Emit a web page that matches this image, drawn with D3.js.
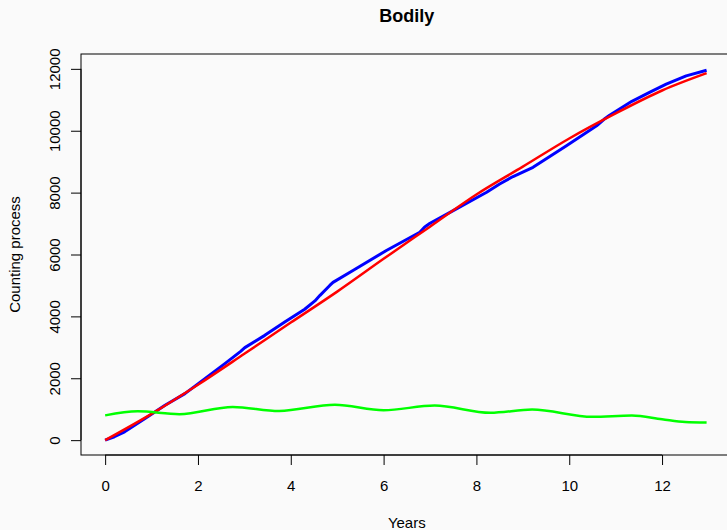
<!DOCTYPE html>
<html>
<head>
<meta charset="utf-8">
<script src="https://cdn.jsdelivr.net/npm/d3@7"></script>
<style>
  html, body { margin: 0; padding: 0; background: #fafafa; }
  svg { display: block; font-family: "Liberation Sans", Arial, Helvetica, sans-serif; }
</style>
</head>
<body>
<div class="chart"></div>
<script>
// values
var blueYears = [0, 0.2, 0.42, 0.86, 1.29, 1.72, 2.15, 2.58, 2.92, 3.01, 3.44, 3.87, 4.3, 4.52, 4.63, 4.84, 4.91, 5.34, 6.06, 6.78, 6.88, 7.0, 7.5, 8.22, 8.5, 8.79, 9.22, 9.94, 10.59, 10.75, 10.87, 11.35, 11.73, 12.09, 12.52, 12.96];
var blueCounts = [0, 110, 268, 699, 1129, 1505, 1989, 2473, 2870, 2990, 3387, 3817, 4230, 4500, 4680, 5000, 5100, 5484, 6129, 6720, 6880, 7010, 7419, 8010, 8280, 8520, 8817, 9516, 10161, 10370, 10500, 10950, 11237, 11505, 11774, 11957];

var redYears = [0, 1, 2, 3, 4, 5, 6, 7, 8, 9, 10, 11, 12, 12.96];
var redCounts = [0, 850, 1790, 2790, 3800, 4800, 5860, 6900, 7940, 8840, 9750, 10560, 11300, 11860];

var greenYears = [0, 0.7, 1.6, 2.75, 3.75, 4.95, 6.0, 7.1, 8.3, 9.2, 10.5, 11.35, 12.0, 12.5, 12.96];
var greenCounts = [800, 930, 840, 1075, 945, 1145, 968, 1118, 885, 990, 755, 795, 677, 590, 570];

var xTicks = [0, 2, 4, 6, 8, 10, 12];
var yTicks = [0, 2000, 4000, 6000, 8000, 10000, 12000];

var width = 727, height = 530;
var plotLeft = 81, plotRight = 732.6, plotTop = 54, plotBottom = 455;

var svg = d3.select(".chart")
    .append("svg")
    .attr("width", width)
    .attr("height", height);

svg.append("rect")
    .attr("width", width)
    .attr("height", height)
    .attr("fill", "#fafafa");

// R style 4% padding around the data range
var xPad = 0.04 * 13, yPad = 0.04 * 12000;
var xScale = d3.scaleLinear()
    .domain([0 - xPad, 13 + xPad])
    .range([plotLeft, plotRight]);
var yScale = d3.scaleLinear()
    .domain([0 - yPad, 12000 + yPad])
    .range([plotBottom, plotTop]);

// lines
var line = d3.line()
    .x(function(d) { return xScale(d[0]); })
    .y(function(d) { return yScale(d[1]); });

svg.append("path")
    .datum(d3.zip(blueYears, blueCounts))
    .attr("d", line)
    .attr("fill", "none")
    .attr("stroke", "#0000ff")
    .attr("stroke-width", 3)
    .attr("stroke-linejoin", "round");

var smooth = d3.line()
    .x(function(d) { return xScale(d[0]); })
    .y(function(d) { return yScale(d[1]); })
    .curve(d3.curveMonotoneX);

svg.append("path")
    .datum(d3.zip(redYears, redCounts))
    .attr("d", smooth)
    .attr("fill", "none")
    .attr("stroke", "#ff0000")
    .attr("stroke-width", 2.5);

svg.append("path")
    .datum(d3.zip(greenYears, greenCounts))
    .attr("d", smooth)
    .attr("fill", "none")
    .attr("stroke", "#00ff00")
    .attr("stroke-width", 2.5);

// box
svg.append("rect")
    .attr("x", plotLeft)
    .attr("y", plotTop)
    .attr("width", plotRight - plotLeft)
    .attr("height", plotBottom - plotTop)
    .attr("fill", "none")
    .attr("stroke", "#000")
    .attr("stroke-width", 1);

// x axis
var xAxis = svg.append("g")
    .attr("transform", "translate(0," + plotBottom + ")")
    .call(d3.axisBottom(xScale).tickValues(xTicks).tickSize(10).tickPadding(15).tickFormat(d3.format("d")));
xAxis.select(".domain").remove();
xAxis.append("line")
    .attr("x1", xScale(xTicks[0]))
    .attr("x2", xScale(xTicks[xTicks.length - 1]))
    .attr("stroke", "#000");
xAxis.selectAll("text")
    .attr("font-size", 15)
    .attr("font-family", "Liberation Sans, Arial, sans-serif")
    .attr("fill", "#000");

// y axis with rotated labels
var yAxis = svg.append("g")
    .attr("transform", "translate(" + plotLeft + ",0)")
    .call(d3.axisLeft(yScale).tickValues(yTicks).tickSize(10).tickFormat(d3.format("d")));
yAxis.select(".domain").remove();
yAxis.append("line")
    .attr("y1", yScale(yTicks[0]))
    .attr("y2", yScale(yTicks[yTicks.length - 1]))
    .attr("stroke", "#000");
yAxis.selectAll("text")
    .attr("x", 0)
    .attr("y", 0)
    .attr("dy", 0)
    .attr("transform", "translate(-21,0) rotate(-90)")
    .attr("text-anchor", "middle")
    .attr("font-size", 15)
    .attr("font-family", "Liberation Sans, Arial, sans-serif")
    .attr("fill", "#000");

// titles
var midX = (plotLeft + plotRight) / 2;
svg.append("text")
    .text("Bodily")
    .attr("x", midX)
    .attr("y", 22)
    .attr("text-anchor", "middle")
    .attr("font-size", 18)
    .attr("font-weight", "bold");

svg.append("text")
    .text("Years")
    .attr("x", midX)
    .attr("y", 527.5)
    .attr("text-anchor", "middle")
    .attr("font-size", 15);

svg.append("text")
    .text("Counting process")
    .attr("transform", "translate(20," + ((plotTop + plotBottom) / 2) + ") rotate(-90)")
    .attr("text-anchor", "middle")
    .attr("font-size", 15);
</script>
</body>
</html>
